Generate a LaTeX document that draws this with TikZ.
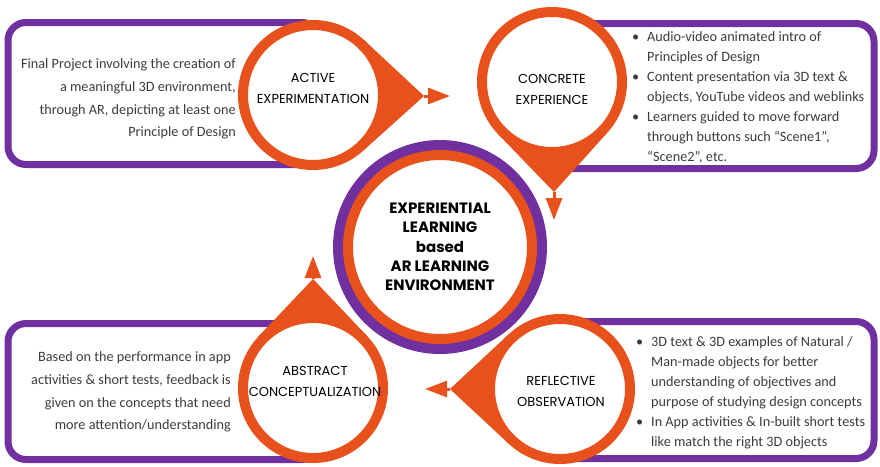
\documentclass[tikz,border=0pt]{standalone}
\usepackage{fontspec}
\setmainfont{Carlito}
\newfontfamily\stagefont{Poppins}
\usetikzlibrary{calc,arrows.meta}
\definecolor{elpurple}{HTML}{7030A0}
\definecolor{elorange}{HTML}{E8501C}
\definecolor{notegray}{HTML}{3C3C3C}
\newcommand{\itembul}{\makebox[15pt][l]{\textbullet}}
\newcommand{\itemgap}{\hspace*{15pt}}

\begin{document}
\begin{tikzpicture}[x=1pt, y=-1pt,
    panel/.style={draw=elpurple, line width=7pt, rounded corners=18pt},
    stage/.style={circle, draw=elorange, line width=10pt, fill=white, minimum size=140pt, inner sep=0pt},
    stagetext/.style={align=center, inner sep=0pt, font=\stagefont\fontsize{13}{21}\selectfont},
    hub/.style={circle, draw=elorange, line width=10pt, fill=white, minimum size=184pt, inner sep=0pt,
        preaction={draw=elpurple, line width=30pt}, align=center,
        font=\stagefont\bfseries\fontsize{15}{19.3}\selectfont},
    note/.style={align=right, inner sep=0pt, text=notegray, font=\fontsize{14.25}{22.6}\selectfont},
    bulletnote/.style={align=left, inner sep=0pt, text=notegray, font=\fontsize{14.25}{20}\selectfont},
    flow/.style={elorange, line width=3pt, -{Triangle[length=22pt, width=16pt]}}]

    \useasboundingbox (0,0) rectangle (880,466);

    % Panels
    \draw[panel] (8,22.5) rectangle (320,164.5);
    \draw[panel] (545,23.5) rectangle (874,168.5);
    \draw[panel] (8,323.5) rectangle (320,459.5);
    \draw[panel] (555,321.5) rectangle (874,458.5);

    % Centres and tips of the four stages
    \coordinate (ae-c) at (313,95);
    \coordinate (ce-c) at (552,82);
    \coordinate (ro-c) at (560,389);
    \coordinate (ac-c) at (313,388);
    \coordinate (ae-tip) at (424,96);
    \coordinate (ce-tip) at (554,192);
    \coordinate (ro-tip) at (450,389);
    \coordinate (ac-tip) at (313,279);

    % Drop shapes
    \fill[elorange] (ae-tip) -- ($(ae-c)+(-47:75)$) -- ($(ae-c)+(47:75)$) -- cycle;
    \fill[elorange] (ce-tip) -- ($(ce-c)+(43:75)$) -- ($(ce-c)+(137:75)$) -- cycle;
    \fill[elorange] (ro-tip) -- ($(ro-c)+(133:75)$) -- ($(ro-c)+(227:75)$) -- cycle;
    \fill[elorange] (ac-tip) -- ($(ac-c)+(223:75)$) -- ($(ac-c)+(317:75)$) -- cycle;

    % Stage circles with labels
    \node[stage] (ae) at (ae-c) {};
    \node[stage] (ce) at (ce-c) {};
    \node[stage] (ro) at (ro-c) {};
    \node[stage] (ac) at (ac-c) {};
    \node[stagetext] (ae-text) at (313,88) {ACTIVE\\EXPERIMENTATION};
    \node[stagetext] (ce-text) at (552,89) {CONCRETE\\EXPERIENCE};
    \node[stagetext] (ro-text) at (561,391) {REFLECTIVE\\OBSERVATION};
    \node[stagetext] (ac-text) at (315,381) {ABSTRACT\\CONCEPTUALIZATION};

    % Centre
    \node[hub] (hub) at (440,247) {EXPERIENTIAL\\LEARNING\\based\\AR LEARNING\\ENVIRONMENT};

    % Arrows
    \coordinate (ae-end) at (450,96);
    \coordinate (ce-end) at (554,220);
    \coordinate (ro-end) at (425,389);
    \coordinate (ac-end) at (313,256);
    \draw[flow] (ae-tip) -- (ae-end);
    \draw[flow] (ce-tip) -- (ce-end);
    \draw[flow] (ro-tip) -- (ro-end);
    \draw[flow] (ac-tip) -- (ac-end);

    % Panel texts
    \node[note, anchor=east] (ae-note) at (236,99) {Final Project involving the creation of\\a meaningful 3D environment,\\through AR, depicting at least one\\Principle of Design};
    \node[bulletnote, anchor=west] (ce-note) at (632,97) {\itembul Audio-video animated intro of\\\itemgap Principles of Design\\\itembul Content presentation via 3D text \&\\\itemgap objects, YouTube videos and weblinks\\\itembul Learners guided to move forward\\\itemgap through buttons such “Scene1”,\\\itemgap “Scene2”, etc.};
    \node[note, anchor=east] (ac-note) at (231,392) {Based on the performance in app\\activities \& short tests, feedback is\\given on the concepts that need\\more attention/understanding};
    \node[bulletnote, anchor=west] (ro-note) at (636,393) {\itembul 3D text \& 3D examples of Natural /\\\itemgap Man-made objects for better\\\itemgap understanding of objectives and\\\itemgap purpose of studying design concepts\\\itembul In App activities \& In-built short tests\\\itemgap like match the right 3D objects};
\end{tikzpicture}
\end{document}
